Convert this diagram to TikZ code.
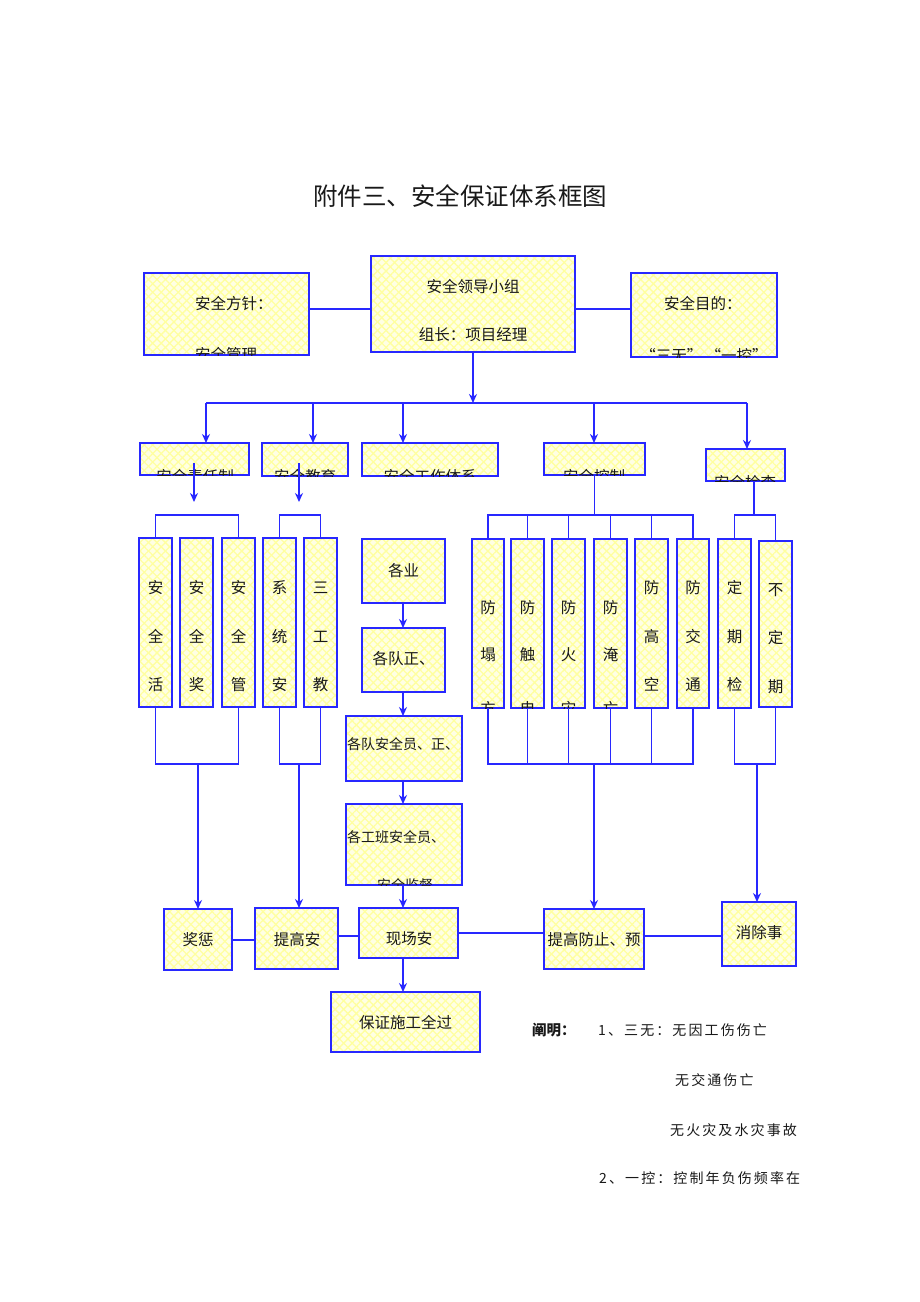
\documentclass[tikz,border=0pt]{standalone}
\usepackage{fontspec}
\setmainfont{Noto Sans CJK SC}
\usetikzlibrary{arrows.meta,patterns.meta}
\definecolor{bblue}{RGB}{40,40,255}
\definecolor{pale}{RGB}{255,255,228}
\definecolor{hatch}{RGB}{255,255,160}
\definecolor{ink}{RGB}{25,25,25}
\tikzset{
 box/.style={draw=bblue, line width=1.8pt, inner sep=0pt, outer sep=0pt,
   preaction={fill=pale},
   preaction={pattern={Lines[angle=45,distance=6pt,line width=1.3pt]},pattern color=hatch},
   preaction={pattern={Lines[angle=-45,distance=6pt,line width=1.3pt]},pattern color=hatch}},
 conn/.style={draw=bblue, line width=1.9pt},
 arr/.style={conn, -{Stealth[length=9pt,width=8pt]}},
 txt/.style={inner sep=0pt, text=ink, font=\fontsize{15.5}{18}\selectfont, text height=13.6pt, text depth=1.9pt},
 small/.style={font=\fontsize{14}{17}\selectfont, text height=12.3pt, text depth=1.7pt},
 note/.style={inner sep=0pt, text=ink, anchor=west, font=\fontsize{14}{17}\selectfont\addfontfeature{LetterSpace=15}, text height=12.3pt, text depth=1.7pt},
}
\newcommand\bx[5]{%
  \pgfmathsetmacro\bxw{#4-#2}\pgfmathsetmacro\bxh{#5-#3}%
  \pgfmathsetmacro\bxx{(#2+#4)/2}\pgfmathsetmacro\bxy{(#3+#5)/2}%
  \node[box,minimum width=\bxw pt,minimum height=\bxh pt] (#1) at (\bxx,\bxy) {};}
\newcommand\cl[4][]{%
  \begin{scope}\clip (#2.south west) rectangle (#2.north east);
  \node[txt,#1] (#3) #4;\end{scope}}
\newcommand\vc[7]{%
  \begin{scope}\clip (#1.south west) rectangle (#1.north east);
  \node[txt] (#1-a) at (#1.center |- 0,#5) {#2};
  \node[txt] (#1-b) at (#1.center |- 0,#6) {#3};
  \node[txt] (#1-c) at (#1.center |- 0,#7) {#4};\end{scope}}
\begin{document}
\begin{tikzpicture}[x=1pt,y=-1pt]
\fill[white] (0,0) rectangle (920,1302);
\useasboundingbox (0,0) rectangle (920,1302);

\node[txt,font=\fontsize{24.5}{28}\selectfont,text height=21.6pt,text depth=2.9pt] (title) at (460,196) {附件三、安全保证体系框图};

% top row
\bx{fz}{144}{273}{309}{355}
\bx{ld}{371}{256}{575}{352}
\bx{md}{631}{273}{777}{357}
\cl[anchor=west]{fz}{fz-t1}{at (195,304) {安全方针：}}
\cl[anchor=west]{fz}{fz-t2}{at (195,355) {安全管理}}
\cl{ld}{ld-t1}{at (473,287) {安全领导小组}}
\cl{ld}{ld-t2}{at (473,335) {组长：项目经理}}
\cl[anchor=west]{md}{md-t1}{at (664,304) {安全目的：}}
\cl{md}{md-t2}{at (704,356) {“三无” “一控”}}
\draw[conn] (fz.east |- 0,309) -- (ld.west |- 0,309);
\draw[conn] (ld.east |- 0,309) -- (md.west |- 0,309);

% distribution
\coordinate (hub) at (473,403);
\coordinate (h1) at (206,403);
\coordinate (h2) at (313,403);
\coordinate (h3) at (403,403);
\coordinate (h4) at (594,403);
\coordinate (h5) at (747,403);
\draw[arr] (ld.south -| hub) -- (hub);
\draw[conn] (h1) -- (h5);

% second row
\bx{zr}{140}{443}{249}{475}
\bx{jy}{262}{443}{348}{476}
\bx{gz}{362}{443}{498}{476}
\bx{kz}{544}{443}{645}{475}
\bx{jc}{706}{449}{785}{481}
\cl{zr}{zr-t}{at (195,477) {安全责任制}}
\cl{jy}{jy-t}{at (305,477) {安全教育}}
\cl{gz}{gz-t}{at (430,477) {安全工作体系}}
\cl{kz}{kz-t}{at (594,477) {安全控制}}
\cl{jc}{jc-t}{at (745,483) {安全检查}}
\draw[arr] (h1) -- (h1 |- zr.north);
\draw[arr] (h2) -- (h2 |- jy.north);
\draw[arr] (h3) -- (h3 |- gz.north);
\draw[arr] (h4) -- (h4 |- kz.north);
\draw[arr] (h5) -- (h5 |- jc.north);

% vertical boxes
\bx{v1}{139}{538}{172}{707}
\bx{v2}{180}{538}{213}{707}
\bx{v3}{222}{538}{255}{707}
\bx{v4}{263}{538}{296}{707}
\bx{v5}{304}{538}{337}{707}
\bx{f1}{472}{539}{504}{708}
\bx{f2}{511}{539}{544}{708}
\bx{f3}{552}{539}{585}{708}
\bx{f4}{594}{539}{627}{708}
\bx{f5}{635}{539}{668}{708}
\bx{f6}{677}{539}{709}{708}
\bx{d1}{718}{539}{751}{708}
\bx{d2}{759}{541}{792}{707}
\vc{v1}{安}{全}{活}{588}{637}{685}
\vc{v2}{安}{全}{奖}{588}{637}{685}
\vc{v3}{安}{全}{管}{588}{637}{685}
\vc{v4}{系}{统}{安}{588}{637}{685}
\vc{v5}{三}{工}{教}{588}{637}{685}
\vc{f1}{防}{塌}{方}{608}{655}{709}
\vc{f2}{防}{触}{电}{608}{655}{709}
\vc{f3}{防}{火}{灾}{608}{655}{709}
\vc{f4}{防}{淹}{亡}{608}{655}{709}
\vc{f5}{防}{高}{空}{588}{637}{685}
\vc{f6}{防}{交}{通}{588}{637}{685}
\vc{d1}{定}{期}{检}{588}{637}{685}
\vc{d2}{不}{定}{期}{590}{638}{687}

% arrows from second row
\coordinate (a1s) at (194,463);
\coordinate (a1e) at (194,502);
\coordinate (a2s) at (299,463);
\coordinate (a2e) at (299,502);
\draw[arr] (a1s) -- (a1e);
\draw[arr] (a2s) -- (a2e);
\draw[conn] (kz.south) -- (kz.south |- 0,515);
\draw[conn] (754,481) -- (754,515);

% top brackets
\draw[conn] (v1.north) -- (v1.north |- 0,515) -| (v3.north);
\draw[conn] (v4.north) -- (v4.north |- 0,515) -| (v5.north);
\draw[conn] (f1.north) -- (f1.north |- 0,515) -| (f6.north);
\foreach \n in {f2,f3,f4,f5} \draw[conn] (\n.north) -- (\n.north |- 0,515);
\draw[conn] (d1.north) -- (d1.north |- 0,515) -| (d2.north);

% bottom brackets
\draw[conn] (v1.south) -- (v1.south |- 0,764) -| (v3.south);
\draw[conn] (v4.south) -- (v4.south |- 0,764) -| (v5.south);
\draw[conn] (f1.south) -- (f1.south |- 0,764) -| (f6.south);
\foreach \n in {f2,f3,f4,f5} \draw[conn] (\n.south) -- (\n.south |- 0,764);
\draw[conn] (d1.south) -- (d1.south |- 0,764) -| (d2.south);
\coordinate (m1) at (198,764);
\coordinate (m2) at (299,764);
\coordinate (m3) at (594,764);
\coordinate (m4) at (757,764);

% middle column
\bx{gy}{362}{539}{445}{603}
\bx{gd}{362}{628}{445}{692}
\bx{gda}{346}{716}{462}{781}
\bx{gbz}{346}{804}{462}{885}
\cl{gy}{gy-t}{at (403.5,571) {各业}}
\cl{gd}{gd-t}{at (403.5,659) {各队正、}}
\cl[anchor=west,small]{gda}{gda-t}{at (347,744) {各队安全员、正、}}
\cl[anchor=west,small]{gbz}{gbz-t1}{at (347,837) {各工班安全员、}}
\cl[small]{gbz}{gbz-t2}{at (405,885) {安全监督}}
\draw[arr] (h3 |- gy.south) -- (h3 |- gd.north);
\draw[arr] (h3 |- gd.south) -- (h3 |- gda.north);
\draw[arr] (h3 |- gda.south) -- (h3 |- gbz.north);

% bottom row
\bx{jch}{164}{909}{232}{970}
\bx{tga}{255}{908}{338}{969}
\bx{xca}{359}{908}{458}{958}
\bx{tgf}{544}{909}{644}{969}
\bx{xc}{722}{902}{796}{966}
\bx{bz}{331}{992}{480}{1052}
\cl{jch}{jch-t}{at (198,940) {奖惩}}
\cl{tga}{tga-t}{at (297,940) {提高安}}
\cl{xca}{xca-t}{at (409,939) {现场安}}
\cl{tgf}{tgf-t}{at (594,940) {提高防止、预}}
\cl{xc}{xc-t}{at (759,933) {消除事}}
\cl{bz}{bz-t}{at (405.5,1023) {保证施工全过}}
\draw[arr] (m1) -- (m1 |- jch.north);
\draw[arr] (m2) -- (m2 |- tga.north);
\draw[arr] (m3) -- (m3 |- tgf.north);
\draw[arr] (m4) -- (m4 |- xc.north);
\draw[arr] (h3 |- gbz.south) -- (h3 |- xca.north);
\draw[arr] (h3 |- xca.south) -- (h3 |- bz.north);
\draw[conn] (jch.east |- 0,940) -- (tga.west |- 0,940);
\draw[conn] (tga.east |- 0,936) -- (xca.west |- 0,936);
\draw[conn] (xca.east |- 0,933) -- (tgf.west |- 0,933);
\draw[conn] (tgf.east |- 0,936) -- (xc.west |- 0,936);

% notes
\node[txt,anchor=west,font=\fontsize{14.5}{17}\selectfont\bfseries,text height=12.8pt,text depth=1.7pt] (n0) at (532,1030) {阐明：};
\node[note] (n1) at (598,1030) {1、三无：无因工伤伤亡};
\node[note] (n2) at (675,1080) {无交通伤亡};
\node[note] (n3) at (670,1130) {无火灾及水灾事故};
\node[note] (n4) at (599,1178) {2、一控：控制年负伤频率在};
\end{tikzpicture}
\end{document}
